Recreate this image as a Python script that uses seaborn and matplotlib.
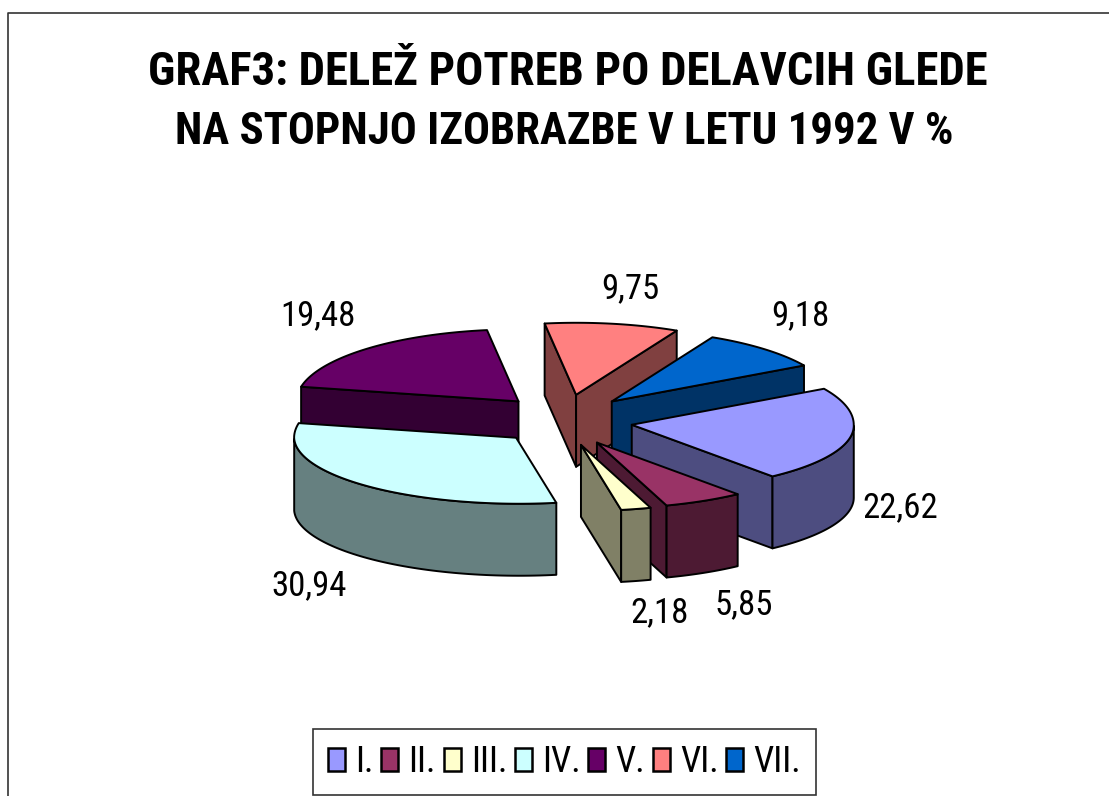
import numpy as np
import matplotlib
matplotlib.use("Agg")
import matplotlib.pyplot as plt
from matplotlib.patches import Patch, Polygon
import seaborn as sns

title_lines = ["GRAF3: DELEŽ POTREB PO DELAVCIH GLEDE", "NA STOPNJO IZOBRAZBE V LETU 1992 V %"]
categories = ["I.", "II.", "III.", "IV.", "V.", "VI.", "VII."]
shares = [22.62, 5.85, 2.18, 30.94, 19.48, 9.75, 9.18]
share_labels = ["22,62", "5,85", "2,18", "30,94", "19,48", "9,75", "9,18"]
top_colors = ["#9999FF", "#993366", "#FFFFCC", "#CCFFFF", "#660066", "#FF8080", "#0066CC"]
side_colors = ["#4D4D80", "#4D1A33", "#808066", "#668080", "#330033", "#804040", "#003366"]

# pie geometry, in pixels of the figure
CX, CY = 565, 420
RX, RY_BACK, RY_FRONT = 222, 72, 66
DEPTH = 72
FRONT_SHIFT = 3
EXPLODE_X, EXPLODE_Y = 0.306, 0.355
START = 60.0
label_pos = [(900, 508), (744, 605), (660, 613), (309, 586), (318, 316), (630, 289), (800, 316)]

sns.set_theme(style="white")
plt.rcParams["font.family"] = ["Roboto Condensed", "Pragati Narrow", "Liberation Sans"]

fig = plt.figure(figsize=(11.09, 7.96), dpi=100)
ax = fig.add_axes([0, 0, 1, 1])
ax.set_xlim(0, 1109)
ax.set_ylim(796, 0)
ax.axis("off")

# chart frame, runs off the bottom and right of the picture
ax.plot([8, 8, 1109], [796, 13, 13], color="#333333", lw=1.2)


def wall(xs, ys, side):
    poly = np.c_[np.r_[xs, xs[::-1]], np.r_[ys, ys[::-1] + DEPTH]]
    ax.add_patch(Polygon(poly, closed=True, fc=side, ec="black", lw=1.4, joinstyle="round"))


def draw_slice(t0, t1, top, side):
    mid = np.radians((t0 + t1) / 2)
    ax0 = CX + EXPLODE_X * RX * np.sin(mid)
    ay0 = CY - EXPLODE_Y * RY_BACK * np.cos(mid)
    t = np.radians(np.linspace(t0, t1, 80))
    ry = np.where(np.cos(t) < 0, RY_FRONT, RY_BACK)
    rim_x = ax0 + RX * np.sin(t) + FRONT_SHIFT * np.clip(-np.cos(t), 0, 1)
    rim_y = ay0 - ry * np.cos(t)
    # cut faces, drawn when they look towards the viewer
    if rim_x[0] < ax0:
        wall(np.array([rim_x[0], ax0]), np.array([rim_y[0], ay0]), side)
    if rim_x[-1] > ax0:
        wall(np.array([ax0, rim_x[-1]]), np.array([ay0, rim_y[-1]]), side)
    # outer curved wall, only the front half
    front = np.cos(t) <= 0
    if front.any():
        wall(rim_x[front], rim_y[front], side)
    ax.add_patch(Polygon(np.c_[np.r_[ax0, rim_x], np.r_[ay0, rim_y]], closed=True, fc=top, ec="black",
                         lw=1.4, joinstyle="round"))


angles = START + np.r_[0, np.cumsum(shares)] * 3.6
mids = (angles[:-1] + angles[1:]) / 2
order = sorted(range(len(shares)), key=lambda i: -np.cos(np.radians(mids[i])))
for i in order:
    draw_slice(angles[i], angles[i + 1], top_colors[i], side_colors[i])

for txt, (x, y) in zip(share_labels, label_pos):
    ax.text(x, y, txt, ha="center", va="center", fontsize=25, color="black")

ax.text(567.5, 72, title_lines[0], ha="center", va="center", fontsize=33.7, fontweight="bold", color="black")
ax.text(564, 132, title_lines[1], ha="center", va="center", fontsize=32.2, fontweight="bold", color="black")

handles = [Patch(fc=c, ec="black", lw=1.8) for c in top_colors]
leg = ax.legend(handles, categories, ncol=7, loc="center", bbox_to_anchor=(564.5 / 1109, 1 - 762 / 796),
                frameon=True, fancybox=False, edgecolor="#333333", framealpha=1, fontsize=26, labelcolor="black",
                handlelength=0.47, handleheight=0.61, handletextpad=0.28, columnspacing=0.215,
                borderpad=0.41, borderaxespad=0)
leg.get_frame().set_linewidth(1.2)

fig.savefig("out.png", dpi=100, facecolor="white")
